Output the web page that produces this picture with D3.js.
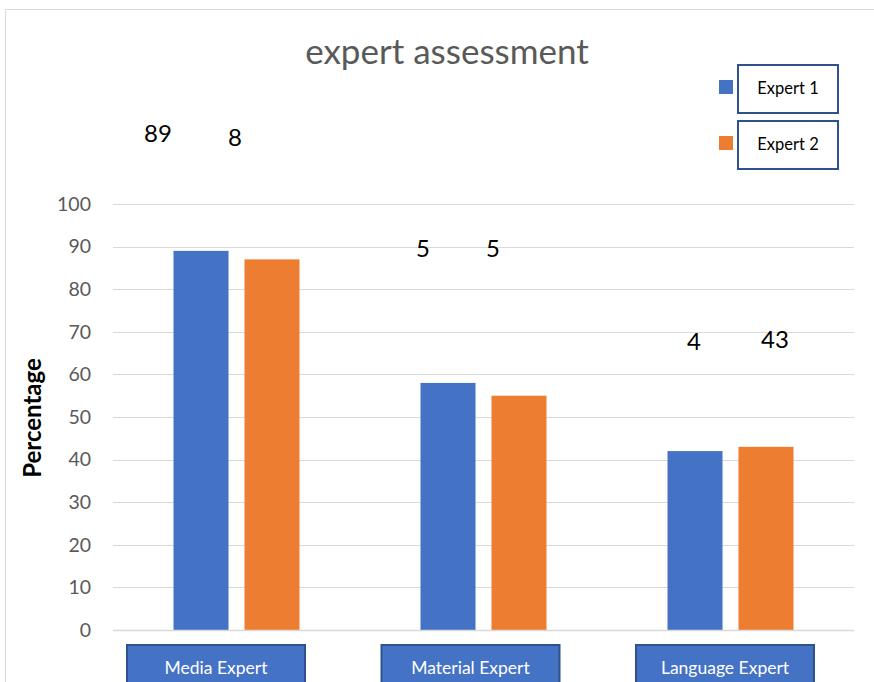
<!DOCTYPE html>
<html>
<head>
<meta charset="utf-8">
<script src="https://cdn.jsdelivr.net/npm/d3@7"></script>
<style>
  html, body { margin: 0; padding: 0; background: #fff; }
  svg { display: block; font-family: Lato, "Open Sans", sans-serif; }
</style>
</head>
<body>
<svg id="chart" width="874" height="682"></svg>
<script>
const categories = ["Media Expert", "Material Expert", "Language Expert"];
const seriesNames = ["Expert 1", "Expert 2"];
const expert1 = [89, 58, 42];
const expert2 = [87, 55, 43];
const yTicks = [0, 10, 20, 30, 40, 50, 60, 70, 80, 90, 100];
// stray data labels shown in the picture (text as displayed)
const labels1 = ["89", "5", "4"];
const labels2 = ["8", "5", "43"];
const colors = ["#4472C4", "#ED7D31"];

const svg = d3.select("#chart");
const W = 874, H = 682;
const plot = { left: 113, right: 854, top: 204, bottom: 630 };

// outer chart border
svg.append("path")
  .attr("d", `M5.5,${H} L5.5,9.5 L${W},9.5`)
  .attr("fill", "none").attr("stroke", "#d9d9d9").attr("stroke-width", 1);

const x = d3.scaleBand().domain(categories).range([plot.left, plot.right]);
const x1 = d3.scaleBand().domain(seriesNames).range([0, 126]).paddingInner(0.225);
const y = d3.scaleLinear().domain([0, 100]).range([plot.bottom, plot.top]);

// gridlines
svg.append("g").selectAll("line").data(yTicks).join("line")
  .attr("x1", plot.left).attr("x2", plot.right)
  .attr("y1", d => Math.round(y(d)) + 0.5).attr("y2", d => Math.round(y(d)) + 0.5)
  .attr("stroke", "#d9d9d9").attr("stroke-width", 1.2);

// y axis labels
const yAxis = d3.axisLeft(y).tickValues(yTicks).tickSize(0).tickPadding(0);
const gy = svg.append("g").attr("transform", `translate(91,0)`).call(yAxis);
gy.select(".domain").remove();
gy.selectAll("text").attr("fill", "#595959").attr("font-size", 19.5)
  .attr("font-family", "Lato, 'Open Sans', sans-serif");

// y title
svg.append("text")
  .attr("transform", `translate(41,418) rotate(-90)`)
  .attr("text-anchor", "middle")
  .attr("font-size", 24).attr("font-weight", "bold").attr("fill", "#000")
  .text("Percentage");

// bars
const groups = svg.append("g").selectAll("g").data(categories).join("g")
  .attr("transform", d => `translate(${x(d) + x.bandwidth() / 2 - 63},0)`);
groups.selectAll("rect")
  .data((d, i) => [expert1[i], expert2[i]].map((v, j) => ({ v, s: seriesNames[j], j })))
  .join("rect")
  .attr("x", d => x1(d.s))
  .attr("width", x1.bandwidth())
  .attr("y", d => y(d.v))
  .attr("height", d => y(0) - y(d.v))
  .attr("fill", d => colors[d.j]);

// stray data labels
const labelY1 = [116.5, 89.5, 67.5];
const labelY2 = [116.0, 89.5, 68.0];
const shift1 = [43, 25, 1];
const shift2 = [37, 26, -9];
groups.each(function (d, i) {
  const g = d3.select(this);
  g.append("text")
    .attr("x", x1("Expert 1") + x1.bandwidth() / 2 - shift1[i])
    .attr("y", y(labelY1[i]) + 8)
    .attr("text-anchor", "middle").attr("font-size", 24).attr("fill", "#000")
    .text(labels1[i]);
  g.append("text")
    .attr("x", x1("Expert 2") + x1.bandwidth() / 2 - shift2[i])
    .attr("y", y(labelY2[i]) + 8 + (i === 0 ? 2 : 0))
    .attr("text-anchor", "middle").attr("font-size", 24).attr("fill", "#000")
    .text(labels2[i]);
});

// baseline
svg.append("line")
  .attr("x1", plot.left).attr("x2", plot.right)
  .attr("y1", plot.bottom + 0.5).attr("y2", plot.bottom + 0.5)
  .attr("stroke", "#d9d9d9").attr("stroke-width", 1.5);

// category label boxes
const catG = svg.append("g").selectAll("g").data(categories).join("g")
  .attr("transform", (d, i) => `translate(${x(d) + x.bandwidth() / 2 - 13 + (i - 1) * 7.5},0)`);
catG.append("rect")
  .attr("x", -89).attr("y", 645).attr("width", 178).attr("height", 50)
  .attr("fill", "#4472C4").attr("stroke", "#2F528F").attr("stroke-width", 2);
catG.append("text")
  .attr("x", 0).attr("y", 674)
  .attr("text-anchor", "middle").attr("font-size", 17.5).attr("fill", "#fff")
  .text(d => d);

// title
svg.append("text")
  .attr("x", 447).attr("y", 64)
  .attr("text-anchor", "middle").attr("font-size", 35).attr("fill", "#595959")
  .text("expert assessment");

// legend
const leg = svg.append("g").selectAll("g").data(seriesNames).join("g")
  .attr("transform", (d, i) => `translate(0,${i * 56})`);
leg.append("rect").attr("x", 719).attr("y", 80).attr("width", 14).attr("height", 14)
  .attr("fill", (d, i) => colors[i]);
leg.append("rect").attr("x", 738).attr("y", 65).attr("width", 100).attr("height", 48)
  .attr("fill", "#fff").attr("stroke", "#2F528F").attr("stroke-width", 2);
leg.append("text").attr("x", 788).attr("y", 94)
  .attr("text-anchor", "middle").attr("font-size", 16.5).attr("fill", "#000")
  .text(d => d);
</script>
</body>
</html>
